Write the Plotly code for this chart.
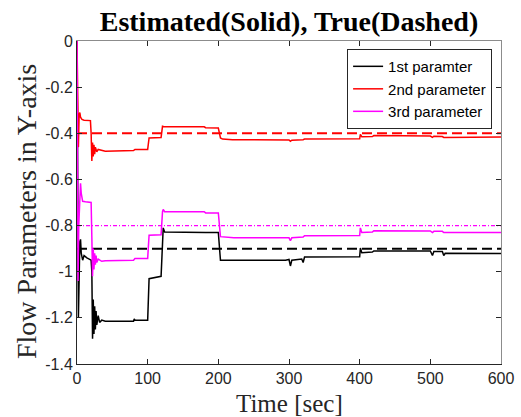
import plotly.graph_objects as go

# ---------------- data ----------------
t_p1 = [0, 1, 2, 4, 5, 6, 8, 10, 14, 20, 21, 22, 23, 24, 25, 26, 27, 28, 30, 32, 35, 40, 80, 81, 82,
        100, 102, 119, 121, 122, 124, 180, 182, 200, 203, 295, 300, 302, 304, 318, 320, 322, 400, 401,
        403, 418, 420, 500, 503, 505, 517, 519, 521, 600]
v_p1 = [0, -0.9, -1.2, -0.87, -0.86, -0.92, -0.95, -0.93, -0.94, -0.95, -1.0, -1.29, -1.12, -1.27,
        -1.15, -1.25, -1.17, -1.23, -1.19, -1.22, -1.21, -1.215, -1.215, -1.205, -1.21,
        -1.21, -1.03, -1.02, -0.83, -0.81, -0.828, -0.827, -0.83, -0.83, -0.95, -0.95, -0.947, -0.975,
        -0.95, -0.945, -0.96, -0.936, -0.935, -0.897, -0.918, -0.915, -0.91, -0.91, -0.93, -0.912,
        -0.912, -0.93, -0.92, -0.921]

t_p2 = [0, 1, 2, 3, 4, 5, 7, 10, 19, 20, 21, 22, 23, 24, 25, 26, 28, 30, 35, 40, 80, 82, 100, 102,
        119, 121, 123, 180, 182, 200, 203, 206, 220, 300, 302, 304, 320, 322, 400, 401, 403, 418, 420,
        500, 503, 505, 517, 519, 600]
v_p2 = [0, -0.2, -0.46, -0.32, -0.31, -0.33, -0.34, -0.343, -0.345, -0.4, -0.52, -0.44, -0.5, -0.45,
        -0.49, -0.46, -0.48, -0.47, -0.475, -0.478, -0.475, -0.47, -0.47, -0.42, -0.418, -0.37,
        -0.372, -0.372, -0.376, -0.377, -0.42, -0.425, -0.428, -0.429, -0.435, -0.43, -0.428, -0.425,
        -0.424, -0.405, -0.415, -0.414, -0.41, -0.412, -0.418, -0.413, -0.414, -0.418, -0.416]

t_p3 = [0, 0.5, 1.5, 2.5, 4, 5, 6, 8, 12, 20, 21, 22, 23, 24, 25, 26, 27, 28, 30, 35, 40, 80, 82,
        100, 102, 119, 121, 122, 124, 180, 182, 200, 203, 220, 222, 300, 302, 304, 320, 322, 400, 401,
        403, 418, 420, 500, 503, 505, 517, 519, 600]
v_p3 = [0, -0.5, -1.04, -0.8, -0.62, -0.617, -0.66, -0.695, -0.697, -0.70, -0.85, -1.02, -0.9, -0.99,
        -0.92, -0.97, -0.93, -0.96, -0.945, -0.955, -0.952, -0.95, -0.943, -0.943, -0.842, -0.84,
        -0.74, -0.73, -0.74, -0.74, -0.745, -0.745, -0.848, -0.85, -0.853, -0.853, -0.865, -0.853,
        -0.85, -0.844, -0.843, -0.81, -0.83, -0.828, -0.822, -0.823, -0.83, -0.825, -0.825, -0.83,
        -0.83]

t_true = [0, 600]
true_p1 = [-0.9, -0.9]
true_p2 = [-0.4, -0.4]
true_p3 = [-0.8, -0.8]

series_names = ["1st paramter", "2nd parameter", "3rd parameter"]
x_tick_vals = [0, 100, 200, 300, 400, 500, 600]
x_tick_text = ["0", "100", "200", "300", "400", "500", "600"]
y_tick_vals = [0, -0.2, -0.4, -0.6, -0.8, -1.0, -1.2, -1.4]
y_tick_text = ["0", "-0.2", "-0.4", "-0.6", "-0.8", "-1", "-1.2", "-1.4"]

# ---------------- figure ----------------
BLACK, RED, MAG = "#000000", "#ff0000", "#ff00ff"
fig = go.Figure()

fig.add_trace(go.Scatter(x=t_true, y=true_p1, mode="lines", showlegend=False,
                         line=dict(color=BLACK, width=2, dash="10px,5px")))
fig.add_trace(go.Scatter(x=t_true, y=true_p2, mode="lines", showlegend=False,
                         line=dict(color=RED, width=2, dash="10px,5px")))
fig.add_trace(go.Scatter(x=t_true, y=true_p3, mode="lines", showlegend=False,
                         line=dict(color=MAG, width=1.3, dash="4px,2px,1px,2px")))

fig.add_trace(go.Scatter(x=t_p1, y=v_p1, mode="lines", name=series_names[0],
                         line=dict(color=BLACK, width=1.5)))
fig.add_trace(go.Scatter(x=t_p2, y=v_p2, mode="lines", name=series_names[1],
                         line=dict(color=RED, width=1.5)))
fig.add_trace(go.Scatter(x=t_p3, y=v_p3, mode="lines", name=series_names[2],
                         line=dict(color=MAG, width=1.5)))

# dummy trace for the mirrored (top/right) gray axes
fig.add_trace(go.Scatter(x=[None], y=[None], xaxis="x2", yaxis="y2", showlegend=False,
                         hoverinfo="skip"))

tickfont = dict(family="Liberation Sans, Arial, sans-serif", size=16, color="#262626")
serif = "Liberation Serif, Times New Roman, serif"

fig.update_layout(
    width=521, height=417,
    margin=dict(l=77, r=20, t=41, b=53),
    paper_bgcolor="white", plot_bgcolor="white",
    showlegend=True,
    title=dict(text="<b>Estimated(Solid), True(Dashed)</b>", x=289 / 521, xanchor="center",
               y=1 - 21 / 417, yanchor="middle",
               font=dict(family=serif, size=28, color="#000000")),
    xaxis=dict(range=[0, 600], tickvals=x_tick_vals, ticktext=x_tick_text,
               ticks="inside", ticklen=5, tickcolor="#262626", showline=True,
               linecolor="#262626", linewidth=1, showgrid=False, zeroline=False,
               tickfont=tickfont, mirror=False, automargin=False),
    yaxis=dict(range=[-1.4, 0], tickvals=y_tick_vals, ticktext=y_tick_text,
               ticks="inside", ticklen=5, tickcolor="#262626", showline=True,
               linecolor="#262626", linewidth=1, showgrid=False, zeroline=False,
               tickfont=tickfont, mirror=False, automargin=False),
    xaxis2=dict(range=[0, 600], overlaying="x", side="top", anchor="y2",
                tickvals=x_tick_vals, ticks="inside", ticklen=5, tickcolor="#262626",
                showticklabels=False, showline=True, linecolor="#8c8c8c", linewidth=1,
                showgrid=False, zeroline=False, automargin=False),
    yaxis2=dict(range=[-1.4, 0], overlaying="y", side="right", anchor="x2",
                tickvals=y_tick_vals, ticks="inside", ticklen=5, tickcolor="#262626",
                showticklabels=False, showline=True, linecolor="#8c8c8c", linewidth=1,
                showgrid=False, zeroline=False, automargin=False),
    legend=dict(x=0.979, xanchor="right", y=0.975, yanchor="top",
                bgcolor="white", bordercolor="#262626", borderwidth=1,
                font=dict(family="Liberation Sans, Arial, sans-serif", size=15, color="#000000"),
                tracegroupgap=0, itemwidth=30),
    annotations=[
        dict(text="Flow Parameters in Y-axis", xref="paper", yref="paper",
             x=(26 - 77) / 424, y=(364 - 212) / 323, xanchor="center",
             yanchor="middle", textangle=-90,
             showarrow=False, font=dict(family=serif, size=28, color="#262626")),
        dict(text="Time [sec]", xref="paper", yref="paper",
             x=0.5, y=(364 - 403) / 323, xanchor="center", yanchor="middle",
             showarrow=False, font=dict(family=serif, size=25, color="#262626")),
    ],
)

fig.write_html("out.html", config={"displayModeBar": False},
               post_script="document.body.style.margin='0';document.body.style.padding='0';")
